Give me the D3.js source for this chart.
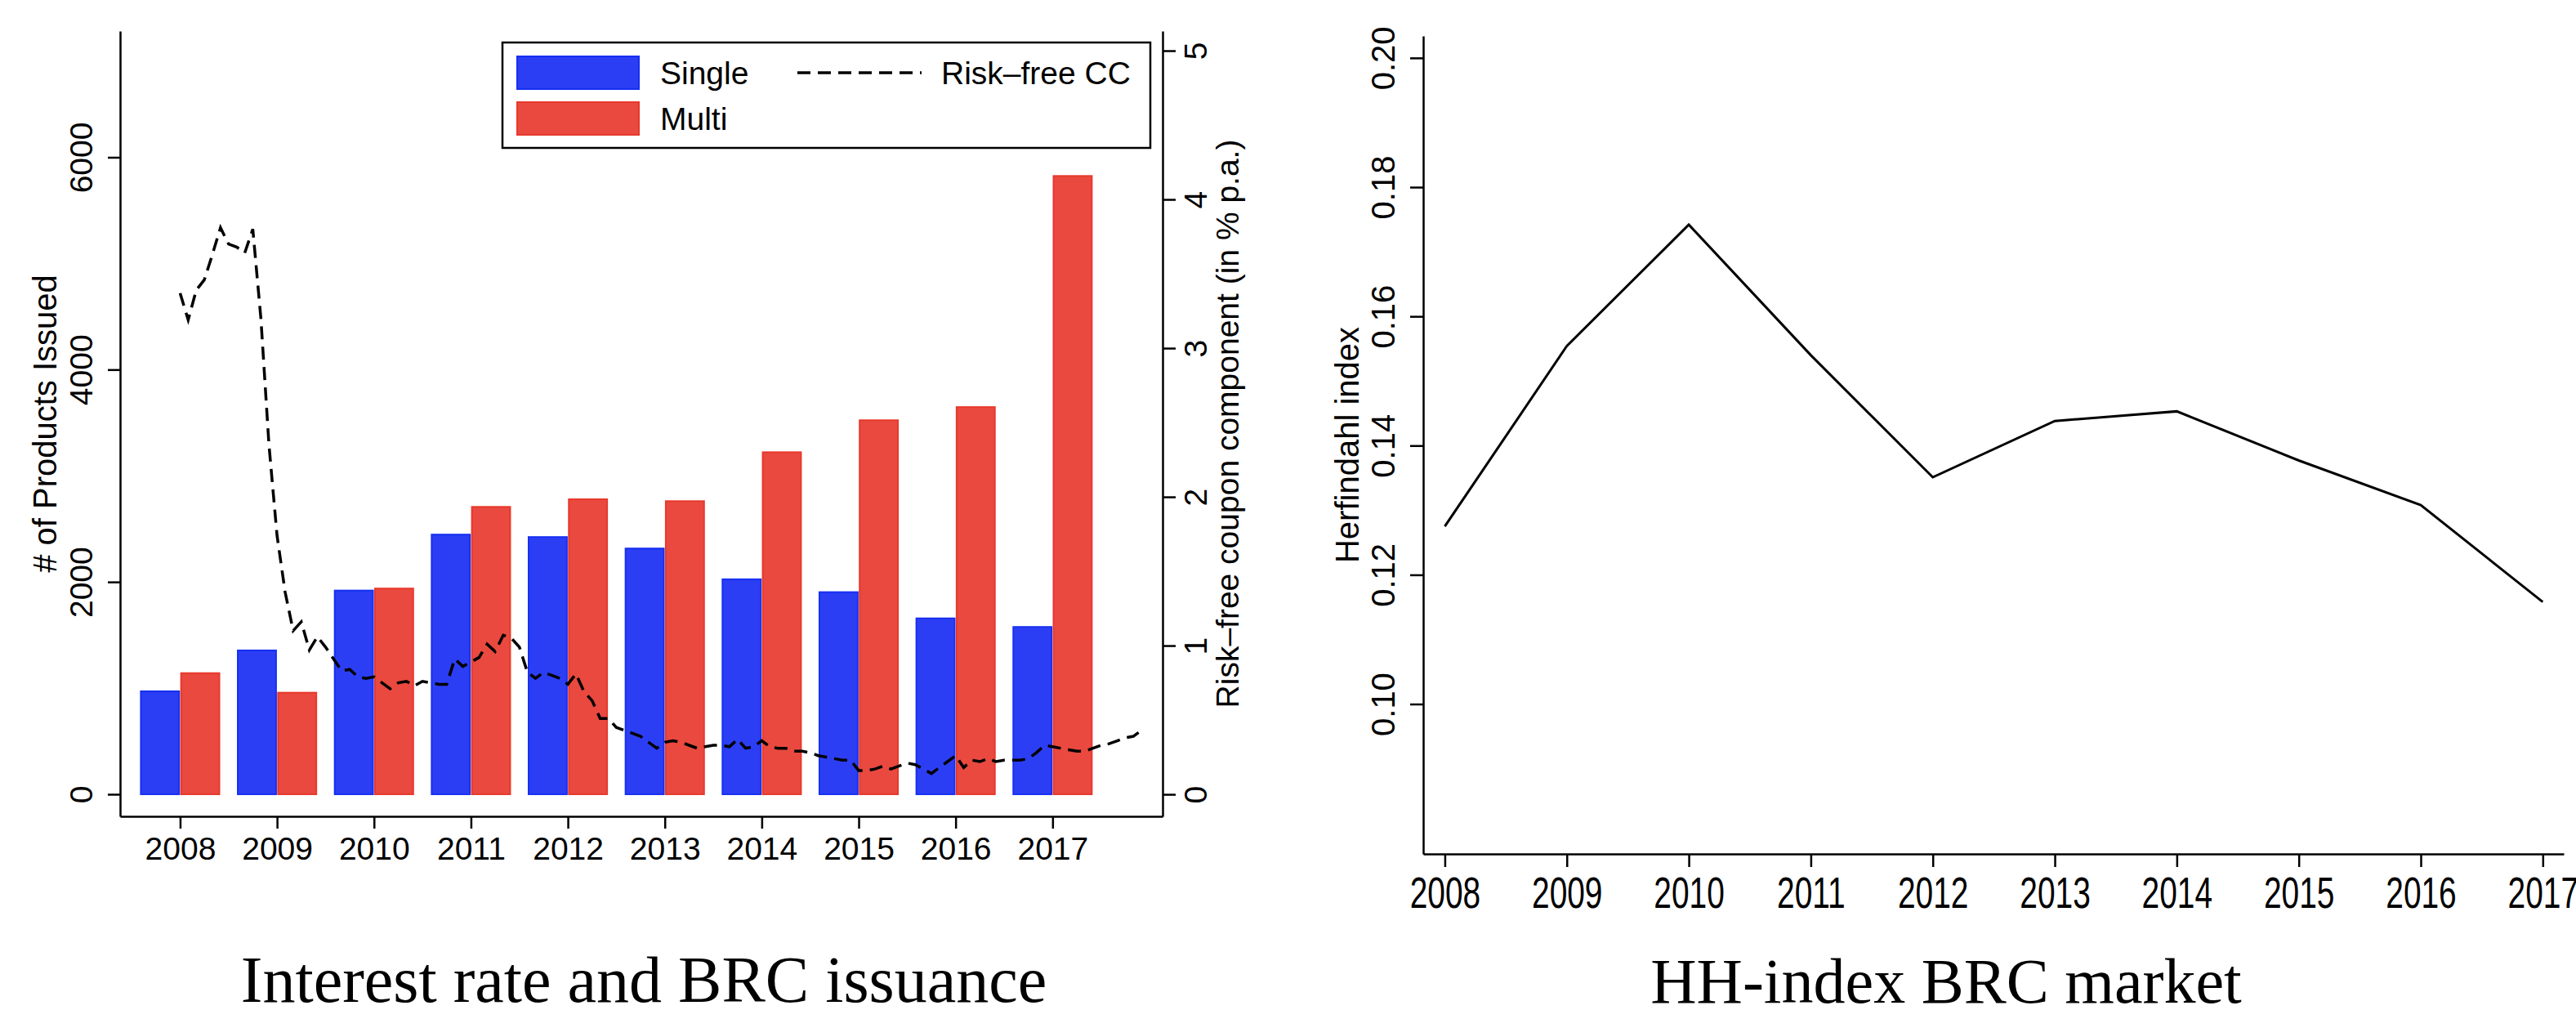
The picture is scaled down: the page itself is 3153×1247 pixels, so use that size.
<!DOCTYPE html>
<html>
<head>
<meta charset="utf-8">
<script src="https://cdn.jsdelivr.net/npm/d3@7"></script>
<style>
  body { margin: 0; background: white; }
  text { font-family: "Liberation Sans", Arial, sans-serif; fill: black; }
  .title { font-family: "Liberation Serif", "Times New Roman", serif; }
</style>
</head>
<body>
<svg id="chart" width="3153" height="1247"></svg>
<script>

// ---- data ----
var years = [2008, 2009, 2010, 2011, 2012, 2013, 2014, 2015, 2016, 2017];

// number of products issued per year
var single = [970, 1355, 1919, 2446, 2423, 2315, 2025, 1904, 1657, 1576];
var multi = [1141, 957, 1938, 2707, 2779, 2761, 3222, 3523, 3647, 5824];

// monthly risk-free coupon component (in % p.a.), Jan 2008 .. Dec 2017
var rateStart = 2008;
var rate = [
  3.37, 3.19, 3.39, 3.46, 3.63, 3.81, 3.70, 3.68, 3.64, 3.80, 3.20, 2.35,
  1.74, 1.36, 1.10, 1.16, 0.97, 1.06, 0.99, 0.91, 0.83, 0.84, 0.79, 0.78,
  0.79, 0.75, 0.71, 0.75, 0.76, 0.73, 0.76, 0.75, 0.74, 0.74, 0.91, 0.86,
  0.89, 0.92, 1.01, 0.96, 1.07, 1.05, 0.99, 0.82, 0.78, 0.82, 0.80, 0.78,
  0.74, 0.81, 0.69, 0.63, 0.51, 0.51, 0.45, 0.43, 0.41, 0.39, 0.35, 0.31,
  0.35, 0.36, 0.35, 0.33, 0.31, 0.32, 0.33, 0.33, 0.32, 0.37, 0.31, 0.32,
  0.36, 0.32, 0.31, 0.31, 0.29, 0.29, 0.28, 0.26, 0.25, 0.24, 0.23, 0.23,
  0.16, 0.16, 0.17, 0.19, 0.17, 0.19, 0.21, 0.20, 0.17, 0.14, 0.18, 0.22,
  0.26, 0.18, 0.23, 0.22, 0.24, 0.22, 0.23, 0.23, 0.23, 0.24, 0.28, 0.33,
  0.32, 0.31, 0.30, 0.29, 0.29, 0.31, 0.33, 0.34, 0.36, 0.38, 0.39, 0.43
];

// herfindahl index per year
var hhi = [0.1275, 0.1554, 0.1742, 0.1540, 0.1351, 0.1438, 0.1453, 0.1377, 0.1308, 0.1158];

// tick values
var countTicks = [0, 2000, 4000, 6000];
var rateTicks = [0, 1, 2, 3, 4, 5];
var hhiTicks = [0.10, 0.12, 0.14, 0.16, 0.18, 0.20];

var blueFill = "#2c3ef4", blueLine = "#1630f2";
var redFill = "#e9493f", redLine = "#e8392c";
var dashes = "16,9";

var svg = d3.select("#chart");
svg.append("rect").attr("width", 3153).attr("height", 1247).attr("fill", "white");

// turn tick labels so they read upwards (stata style)
function rotateLabels(g, offset) {
    g.selectAll(".tick text")
        .attr("x", 0)
        .attr("y", offset)
        .attr("dy", 0)
        .attr("transform", "rotate(-90)")
        .attr("text-anchor", "middle");
}

function styleAxis(g, size) {
    g.attr("font-size", size).attr("font-family", null);
    g.selectAll("line, path").attr("stroke-width", 2.5);
}

///////////////////////// left panel: issuance and interest rate /////////////////////////

var x = d3.scaleLinear().domain([2007.381, 2018.135]).range([147, 1423]);
var yCount = d3.scaleLinear().domain([-208, 7189]).range([999, 38]);
var yRate = d3.scaleLinear().domain([-0.148, 5.132]).range([999, 38]);

var left = svg.append("g");

// bars
left.selectAll(".single")
    .data(years)
    .enter()
    .append("rect")
    .attr("class", "single")
    .attr("x", function(d) { return x(d - 0.405); })
    .attr("width", function(d) { return x(d - 0.01) - x(d - 0.405); })
    .attr("y", function(d, i) { return yCount(single[i]); })
    .attr("height", function(d, i) { return yCount(0) - yCount(single[i]); })
    .attr("fill", blueFill)
    .attr("stroke", blueLine)
    .attr("stroke-width", 2);

left.selectAll(".multi")
    .data(years)
    .enter()
    .append("rect")
    .attr("class", "multi")
    .attr("x", function(d) { return x(d + 0.01); })
    .attr("width", function(d) { return x(d + 0.405) - x(d + 0.01); })
    .attr("y", function(d, i) { return yCount(multi[i]); })
    .attr("height", function(d, i) { return yCount(0) - yCount(multi[i]); })
    .attr("fill", redFill)
    .attr("stroke", redLine)
    .attr("stroke-width", 2);

// dashed rate line
var rateLine = d3.line()
    .x(function(d, i) { return x(rateStart + i / 12); })
    .y(function(d) { return yRate(d); });

left.append("path")
    .datum(rate)
    .attr("d", rateLine)
    .attr("fill", "none")
    .attr("stroke", "black")
    .attr("stroke-width", 3.5)
    .attr("stroke-dasharray", dashes);

// axes
var yAxisLeft = left.append("g")
    .attr("transform", "translate(147,0)")
    .call(d3.axisLeft(yCount).tickValues(countTicks).tickFormat(d3.format("d")).tickSize(15).tickSizeOuter(0));
styleAxis(yAxisLeft, 39);
rotateLabels(yAxisLeft, -34);

var yAxisRight = left.append("g")
    .attr("transform", "translate(1423,0)")
    .call(d3.axisRight(yRate).tickValues(rateTicks).tickFormat(d3.format("d")).tickSize(16).tickSizeOuter(0));
styleAxis(yAxisRight, 39);
rotateLabels(yAxisRight, 54);

var xAxis = left.append("g")
    .attr("transform", "translate(0,999)")
    .call(d3.axisBottom(x).tickValues(years).tickFormat(d3.format("d")).tickSize(15).tickSizeOuter(0));
styleAxis(xAxis, 39);
xAxis.selectAll(".tick text").attr("y", 53).attr("dy", 0);

// axis titles
left.append("text")
    .attr("transform", "translate(69," + ((38 + 999) / 2) + ") rotate(-90)")
    .attr("text-anchor", "middle")
    .attr("font-size", 40)
    .text("# of Products Issued");

left.append("text")
    .attr("transform", "translate(1516," + ((38 + 999) / 2) + ") rotate(-90)")
    .attr("text-anchor", "middle")
    .attr("font-size", 39)
    .text("Risk\u2013free coupon component (in % p.a.)");

// legend
var legend = left.append("g");
legend.append("rect")
    .attr("x", 615).attr("y", 52).attr("width", 793).attr("height", 129)
    .attr("fill", "white").attr("stroke", "black").attr("stroke-width", 2.5);
legend.append("rect")
    .attr("x", 633).attr("y", 69).attr("width", 149).attr("height", 40)
    .attr("fill", blueFill).attr("stroke", blueLine).attr("stroke-width", 2);
legend.append("rect")
    .attr("x", 633).attr("y", 125).attr("width", 149).attr("height", 40)
    .attr("fill", redFill).attr("stroke", redLine).attr("stroke-width", 2);
legend.append("text").attr("x", 808).attr("y", 103).attr("font-size", 39).text("Single");
legend.append("text").attr("x", 808).attr("y", 159).attr("font-size", 39).text("Multi");
legend.append("line")
    .attr("x1", 976).attr("x2", 1128).attr("y1", 89).attr("y2", 89)
    .attr("stroke", "black").attr("stroke-width", 3.5).attr("stroke-dasharray", dashes);
legend.append("text").attr("x", 1152).attr("y", 103).attr("font-size", 39).text("Risk\u2013free CC");

// caption
left.append("text")
    .attr("class", "title")
    .attr("x", 788).attr("y", 1226)
    .attr("text-anchor", "middle")
    .attr("font-size", 80)
    .text("Interest rate and BRC issuance");

///////////////////////// right panel: herfindahl index /////////////////////////

var x2 = d3.scaleLinear().domain([2007.823, 2017.172]).range([1742, 3138]);
var y2 = d3.scaleLinear().domain([0.0768, 0.2034]).range([1045, 44]);

var right = svg.append("g");

var hhiLine = d3.line()
    .x(function(d, i) { return x2(years[i]); })
    .y(function(d) { return y2(d); });

right.append("path")
    .datum(hhi)
    .attr("d", hhiLine)
    .attr("fill", "none")
    .attr("stroke", "black")
    .attr("stroke-width", 3)
    .attr("stroke-linejoin", "miter");

var yAxis2 = right.append("g")
    .attr("transform", "translate(1742,0)")
    .call(d3.axisLeft(y2).tickValues(hhiTicks).tickFormat(d3.format(".2f")).tickSize(16).tickSizeOuter(0));
styleAxis(yAxis2, 40);
rotateLabels(yAxis2, -35);

var xAxis2 = right.append("g")
    .attr("transform", "translate(0,1045)")
    .call(d3.axisBottom(x2).tickValues(years).tickFormat(d3.format("d")).tickSize(16).tickSizeOuter(0));
styleAxis(xAxis2, 54);
// year labels on this panel are drawn narrow and tall
xAxis2.selectAll(".tick text")
    .attr("y", 0)
    .attr("dy", 0)
    .attr("transform", "translate(0,66) scale(0.72,1)");

right.append("text")
    .attr("transform", "translate(1663," + ((44 + 1045) / 2) + ") rotate(-90)")
    .attr("text-anchor", "middle")
    .attr("font-size", 40)
    .text("Herfindahl index");

right.append("text")
    .attr("class", "title")
    .attr("x", 2382).attr("y", 1227)
    .attr("text-anchor", "middle")
    .attr("font-size", 78)
    .text("HH-index BRC market");

</script>
</body>
</html>
